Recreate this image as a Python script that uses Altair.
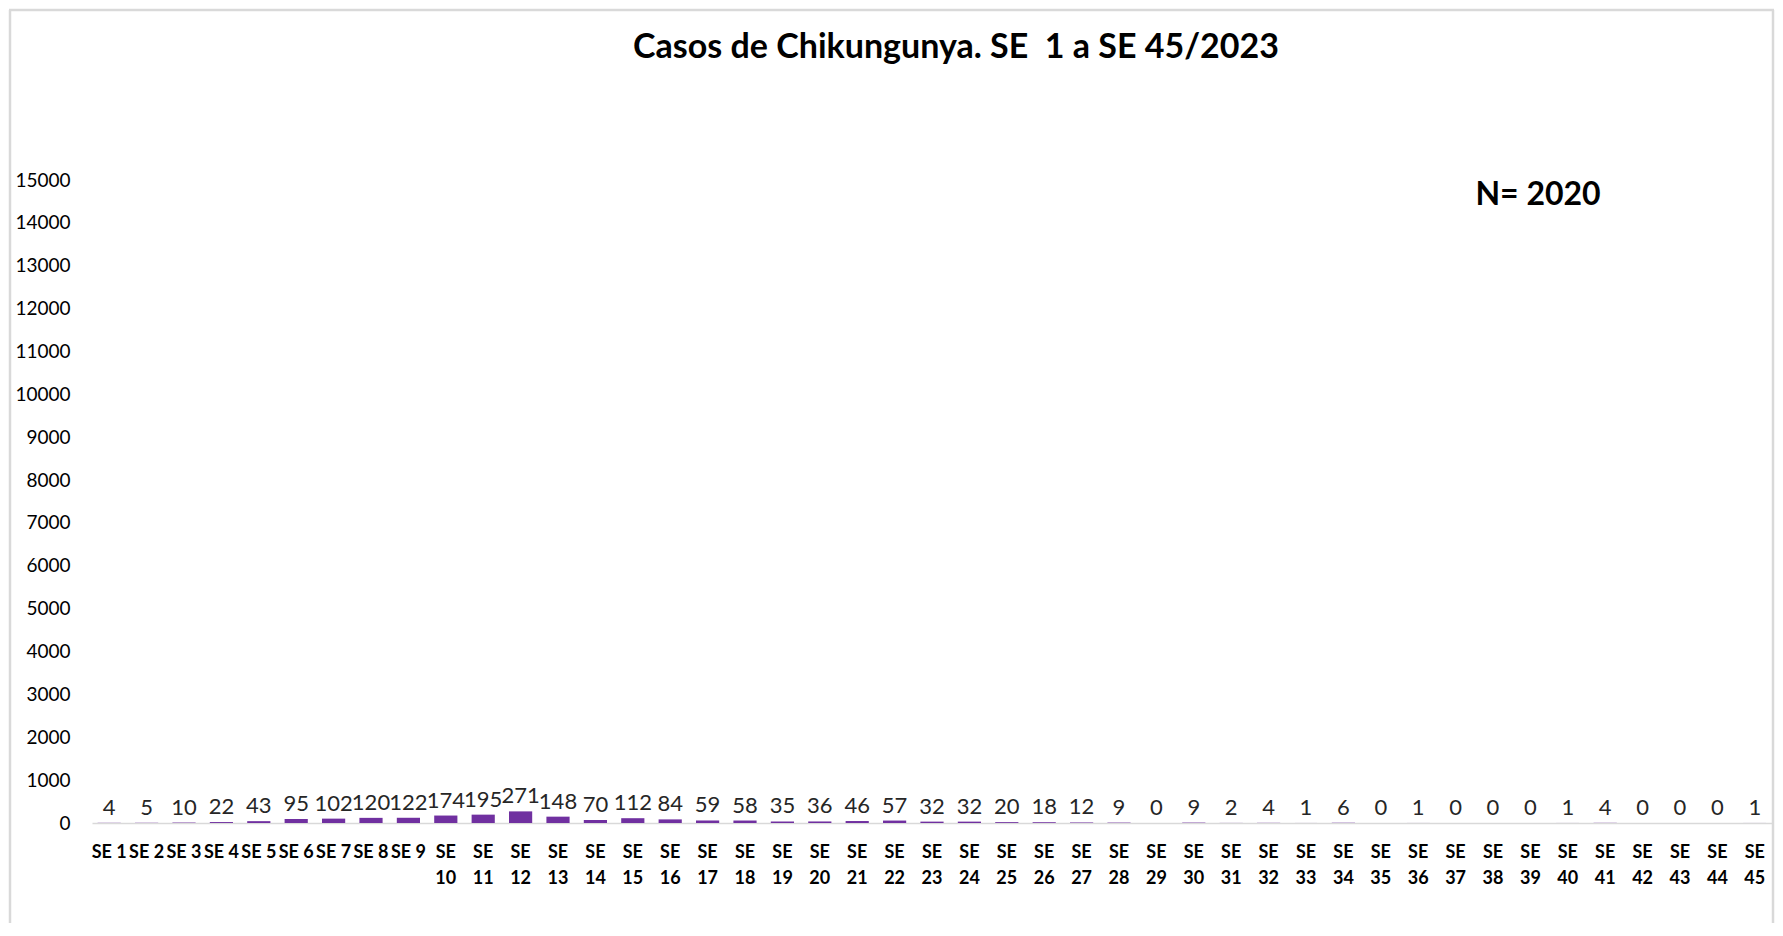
import altair as alt
import pandas as pd

weeks = [f"SE {i}" for i in range(1, 46)]
cases = [4, 5, 10, 22, 43, 95, 102, 120, 122, 174, 195, 271, 148, 70, 112, 84, 59, 58,
         35, 36, 46, 57, 32, 32, 20, 18, 12, 9, 0, 9, 2, 4, 1, 6, 0, 1, 0, 0, 0, 1, 4,
         0, 0, 0, 1]
y_ticks = list(range(0, 15001, 1000))
title_text = "Casos de Chikungunya. SE\u00a0 1 a SE 45/2023"
n_text = "N= 2020"

df = pd.DataFrame({"week": weeks, "cases": cases})

FONT = "Lato"
W, H = 1680, 643

xenc = alt.X(
    "week:N", sort=weeks, title=None,
    scale=alt.Scale(paddingInner=0.38, paddingOuter=0.15),
    axis=alt.Axis(
        labelAngle=0, labelFont=FONT, labelFontSize=18, labelFontWeight="bold",
        labelColor="#000000", labelPadding=20, labelLineHeight=26, ticks=False,
        domainColor="#D9D9D9", domainWidth=1.5, labelOverlap=False, labelLimit=0,
        labelExpr="toNumber(split(datum.label,' ')[1]) >= 10 ? split(datum.label,' ') : datum.label",
    ),
)
yenc = alt.Y(
    "cases:Q", title=None,
    scale=alt.Scale(domain=[0, 15000], nice=False),
    axis=alt.Axis(
        values=y_ticks, grid=False, domain=False, ticks=False, labelFont=FONT,
        labelFontSize=19, labelColor="#000000", labelPadding=22, format="d",
    ),
)

bars = alt.Chart(df).mark_bar(color="#7030A0").encode(x=xenc, y=yenc)

labels = alt.Chart(df).mark_text(
    font=FONT, fontSize=22, color="#262626", dy=-15, baseline="middle"
).encode(x=alt.X("week:N", sort=weeks), y="cases:Q", text="cases:Q")

n_df = pd.DataFrame({"t": [n_text]})
n_label = alt.Chart(n_df).mark_text(
    font=FONT, fontSize=32, fontWeight="bold", color="#000000"
).encode(x=alt.value(1446), y=alt.value(15), text="t:N")

t_df = pd.DataFrame({"t": [title_text]})
title_mark = alt.Chart(t_df).mark_text(
    font=FONT, fontSize=34, fontWeight="bold", color="#000000", baseline="middle"
).encode(x=alt.value(864), y=alt.value(-132), text="t:N")

frame_df = pd.DataFrame({"k": [0]})
frame_left = alt.Chart(frame_df).mark_rule(color="#D9D9D9", strokeWidth=2.5).encode(
    x=alt.value(-82), y=alt.value(-170), y2=alt.value(770))
frame_right = alt.Chart(frame_df).mark_rule(color="#D9D9D9", strokeWidth=2.5).encode(
    x=alt.value(1681), y=alt.value(-170), y2=alt.value(770))
frame_top = alt.Chart(frame_df).mark_rule(color="#D9D9D9", strokeWidth=2.5).encode(
    x=alt.value(-83), x2=alt.value(1682), y=alt.value(-170))

chart = alt.layer(frame_left, frame_right, frame_top, bars, labels, n_label, title_mark).properties(
    width=W, height=H,
    background="#FFFFFF",
    autosize=alt.AutoSizeParams(type="none"),
    padding={"left": 84, "top": 172, "right": 3, "bottom": 100},
).configure_view(stroke=None, strokeWidth=0)

chart.save("out.html", embed_options={"renderer": "svg", "actions": False})
